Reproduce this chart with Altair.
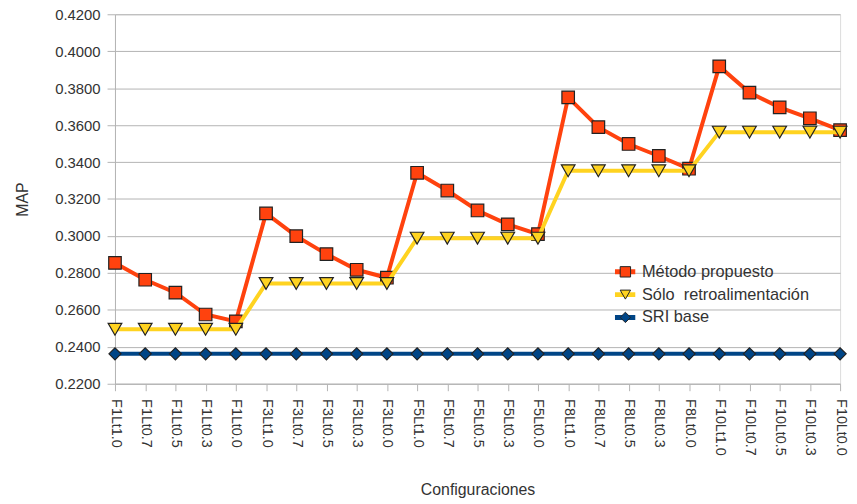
import altair as alt
import pandas as pd

configs = ["F1Lt1.0", "F1Lt0.7", "F1Lt0.5", "F1Lt0.3", "F1Lt0.0",
           "F3Lt1.0", "F3Lt0.7", "F3Lt0.5", "F3Lt0.3", "F3Lt0.0",
           "F5Lt1.0", "F5Lt0.7", "F5Lt0.5", "F5Lt0.3", "F5Lt0.0",
           "F8Lt1.0", "F8Lt0.7", "F8Lt0.5", "F8Lt0.3", "F8Lt0.0",
           "F10Lt1.0", "F10Lt0.7", "F10Lt0.5", "F10Lt0.3", "F10Lt0.0"]

metodo = [0.2854, 0.2763, 0.2693, 0.2575, 0.2538,
          0.3122, 0.2999, 0.2902, 0.2817, 0.2774,
          0.3342, 0.3246, 0.3138, 0.3063, 0.3010,
          0.3750, 0.3589, 0.3498, 0.3433, 0.3364,
          0.3918, 0.3776, 0.3696, 0.3637, 0.3573]

solo = [0.2495] * 5 + [0.2743] * 5 + [0.2988] * 5 + [0.3353] * 5 + [0.3562] * 5

sri = [0.2362] * 25

series_names = ["Método propuesto", "Sólo \u00a0retroalimentación", "SRI base"]
series_colors = ["#ff420e", "#ffd320", "#004586"]
series_shapes = ["square", "triangle-down", "diamond"]
series_sizes = [160, 190, 150]

y_ticks = [0.22, 0.24, 0.26, 0.28, 0.30, 0.32, 0.34, 0.36, 0.38, 0.40, 0.42]

# marker legend uses a distinct (invisible-suffix) domain so it is not merged with the line legend
marker_names = [n + "\u200b" for n in series_names]

rows = []
for name, mname, vals in zip(series_names, marker_names, [metodo, solo, sri]):
    for c, v in zip(configs, vals):
        rows.append({"config": c, "map": v, "serie": name, "serie_m": mname})
df = pd.DataFrame(rows)

FONT = "Liberation Sans"
GRID = "#b3b3b3"
TXT = "#333333"

x_enc = alt.X(
    "config:N", sort=configs,
    scale=alt.Scale(type="point", padding=0),
    axis=alt.Axis(title="Configuraciones", labelAngle=90, labelFontSize=14.5,
                  labelFont=FONT, labelColor=TXT, labelPadding=8,
                  tickColor=GRID, tickSize=7, domainColor=GRID, grid=False,
                  titleFont=FONT, titleFontSize=16, titleFontWeight="normal",
                  titleColor=TXT, titlePadding=27),
)
y_enc = alt.Y(
    "map:Q",
    scale=alt.Scale(domain=[0.22, 0.42], nice=False, zero=False),
    axis=alt.Axis(title="MAP", values=y_ticks, format=".4f", labelFontSize=15,
                  labelFont=FONT, labelColor=TXT, labelPadding=7,
                  tickColor=GRID, tickSize=8, domainColor=GRID,
                  gridColor=GRID, gridWidth=1,
                  titleFont=FONT, titleFontSize=16, titleFontWeight="normal",
                  titleColor=TXT, titlePadding=24),
)

stroke_enc = alt.Stroke(
    "serie:N",
    scale=alt.Scale(domain=series_names, range=series_colors),
    legend=alt.Legend(title=None, orient="none", legendX=502, legendY=252,
                      symbolType="stroke", symbolSize=420, symbolStrokeWidth=5,
                      labelFont=FONT, labelFontSize=16.5, labelColor=TXT,
                      labelLimit=400,
                      clipHeight=16, rowPadding=6, labelOffset=4, padding=0),
)
fill_enc = alt.Fill(
    "serie_m:N",
    scale=alt.Scale(domain=marker_names, range=series_colors),
    legend=alt.Legend(title=None, orient="none", legendX=507, legendY=252,
                      symbolStrokeColor="#222222", symbolStrokeWidth=1,
                      symbolSize=110, symbolOpacity=1,
                      labelFont=FONT, labelFontSize=16.5, labelExpr="''",
                      clipHeight=16, rowPadding=6, padding=0),
)
shape_enc = alt.Shape(
    "serie_m:N",
    scale=alt.Scale(domain=marker_names, range=series_shapes),
)

layers = []
order = [2, 0, 1]
for idx in order:
    name = series_names[idx]
    sub = alt.Chart(df).transform_filter(alt.datum.serie == name)
    layers.append(sub.mark_line(strokeWidth=4).encode(x=x_enc, y=y_enc, stroke=stroke_enc))
    layers.append(sub.mark_point(filled=True, opacity=1, stroke="#222222", strokeWidth=1.2,
                                 size=series_sizes[idx]).encode(
        x=x_enc, y=y_enc, fill=fill_enc, shape=shape_enc))

chart = alt.layer(*layers).properties(
    width=732, height=373,
    autosize=alt.AutoSizeParams(type="none"),
    padding={"left": 108, "top": 4, "right": 9, "bottom": 116},
).configure_view(stroke=GRID, strokeWidth=1).configure(background="white")

chart.save("out.html", embed_options={"renderer": "svg", "actions": False})
